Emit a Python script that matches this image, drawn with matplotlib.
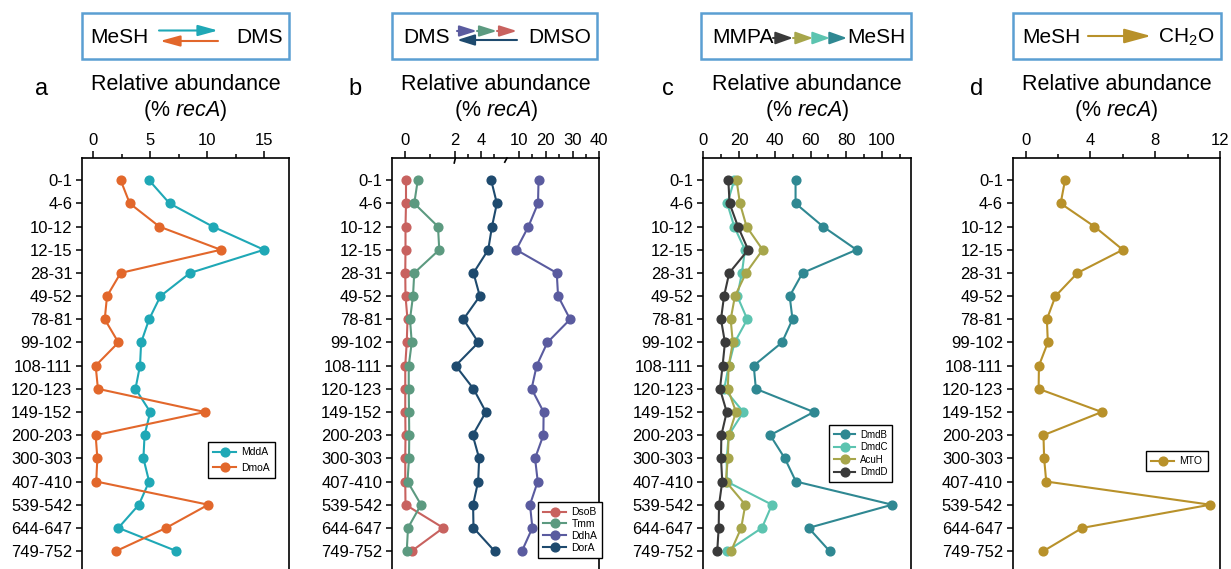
import numpy as np
import matplotlib
matplotlib.use('Agg')
import matplotlib.pyplot as plt
from matplotlib.patches import Rectangle
from matplotlib.ticker import FixedLocator, MultipleLocator
import matplotlib.transforms as mtrans

plt.rcParams['font.family'] = ['Liberation Sans', 'DejaVu Sans']
plt.rcParams['mathtext.fontset'] = 'custom'
plt.rcParams['mathtext.rm'] = 'Liberation Sans'
plt.rcParams['mathtext.it'] = 'Liberation Sans:italic'

# depth intervals (cm)
depths = ['0-1', '4-6', '10-12', '12-15', '28-31', '49-52', '78-81', '99-102',
          '108-111', '120-123', '149-152', '200-203', '300-303', '407-410',
          '539-542', '644-647', '749-752']

# a: MeSH <-> DMS
mddA = [4.9, 6.7, 10.5, 15.0, 8.5, 5.9, 4.9, 4.2, 4.1, 3.7, 5.0, 4.5, 4.4, 4.9, 4.0, 2.2, 7.3]
dmoA = [2.4, 3.2, 5.8, 11.2, 2.4, 1.2, 1.0, 2.2, 0.2, 0.4, 9.8, 0.2, 0.35, 0.25, 10.1, 6.4, 2.0]

# b: DMS <-> DMSO (broken axis)
dsoB = [0.04, 0.04, 0.02, 0.02, 0.01, 0.02, 0.1, 0.07, 0.01, 0.01, 0.01, 0.02, 0.01, 0.01, 0.02, 1.53, 0.27]
tmm = [0.51, 0.37, 1.32, 1.37, 0.37, 0.32, 0.2, 0.27, 0.15, 0.15, 0.16, 0.17, 0.16, 0.1, 0.64, 0.12, 0.07]
ddhA = [17.3, 17.1, 13.5, 9.1, 24.1, 24.6, 29.1, 20.6, 16.6, 14.7, 19.2, 19.1, 16.0, 17.0, 14.1, 15.0, 11.1]
dorA = [4.80, 5.24, 4.86, 4.57, 3.43, 3.92, 2.65, 3.81, 2.05, 3.43, 4.39, 3.37, 3.87, 3.79, 3.40, 3.43, 5.06]

# c: MMPA -> MeSH
dmdB = [51.6, 51.6, 67.0, 85.7, 55.5, 48.3, 49.9, 44.0, 28.2, 29.4, 61.8, 37.4, 45.6, 51.8, 105.6, 58.9, 70.6]
dmdC = [17.3, 13.4, 17.3, 23.3, 21.6, 19.0, 24.6, 17.5, 14.2, 11.7, 22.4, 14.2, 13.1, 13.1, 38.4, 32.8, 13.4]
acuH = [18.6, 20.5, 24.2, 33.2, 23.9, 17.7, 15.3, 16.5, 14.2, 13.7, 18.3, 14.2, 13.7, 12.6, 23.5, 21.2, 15.5]
dmdD = [14.0, 14.7, 19.4, 25.1, 14.5, 11.6, 9.9, 12.1, 10.8, 9.3, 13.1, 10.1, 9.9, 10.6, 8.8, 8.6, 7.8]

# d: MeSH -> CH2O
mto = [2.43, 2.16, 4.25, 6.0, 3.2, 1.84, 1.31, 1.37, 0.82, 0.8, 4.7, 1.1, 1.14, 1.27, 11.4, 3.5, 1.1]

c_mddA, c_dmoA = '#1FA8B6', '#E2672B'
c_dsoB, c_tmm, c_ddhA, c_dorA = '#C8625F', '#5C9A80', '#5A5B9F', '#1E4A6E'
c_dmdB, c_dmdC, c_acuH, c_dmdD = '#2F8892', '#5CC4B0', '#A7A64B', '#3A3A3A'
c_mto = '#B8912A'
box_col = '#5B9FD2'

W, H = 1231, 569
fig = plt.figure(figsize=(W / 100, H / 100), dpi=100)


def rect(x0, x1, top=158.0, bottom=573.3):
    return [x0 / W, 1 - bottom / H, (x1 - x0) / W, (bottom - top) / H]


def style(ax):
    ax.xaxis.tick_top()
    ax.tick_params(axis='x', which='major', direction='out', length=5, width=1.1,
                   labelsize=12, pad=2)
    ax.tick_params(axis='x', which='minor', direction='out', length=3, width=1.1)
    ax.tick_params(axis='y', direction='out', length=4, width=1.1, labelsize=12, pad=3)
    for s in ax.spines.values():
        s.set_linewidth(1.2)
    ax.set_ylim(16.96, -0.96)


kw = dict(marker='o', ms=6.3, lw=1.5)

# panel a
axa = fig.add_axes(rect(82, 289))
axa.plot(mddA, depths, color=c_mddA, label='MddA', **kw)
axa.plot(dmoA, depths, color=c_dmoA, label='DmoA', **kw)
axa.set_xlim(-1, 17.2)
axa.xaxis.set_major_locator(FixedLocator([0, 5, 10, 15]))
axa.xaxis.set_minor_locator(FixedLocator([2.5, 7.5, 12.5]))
style(axa)

# panel b, broken axis through a piecewise scale
bv = [-50, 0, 2, 6, 10, 40, 1000]
bp = [-845, 405, 455, 506.7, 519, 599.3, 3172]


def fwd(v):
    return np.interp(v, bv, bp)


def inv(p):
    return np.interp(p, bp, bv)


axb = fig.add_axes(rect(392, 599.3))
axb.set_xscale('function', functions=(fwd, inv))
axb.plot(dsoB, depths, color=c_dsoB, label='DsoB', **kw)
axb.plot(tmm, depths, color=c_tmm, label='Tmm', **kw)
axb.plot(ddhA, depths, color=c_ddhA, label='DdhA', **kw)
axb.plot(dorA, depths, color=c_dorA, label='DorA', **kw)
axb.set_xlim(-0.52, 40)
axb.xaxis.set_major_locator(FixedLocator([0, 2, 4, 10, 20, 30, 40]))
axb.xaxis.set_minor_locator(FixedLocator([1, 3, 5, 15, 25, 35]))
axb.xaxis.set_major_formatter(plt.FuncFormatter(lambda v, p: '%d' % v))
axb.xaxis.set_minor_formatter(plt.NullFormatter())
style(axb)
# small break marks on the top spine
bt = mtrans.blended_transform_factory(axb.transData, axb.transAxes)
axb.plot([1.97, 2.03], [0.988, 1.0], transform=bt, color='k', lw=1.2, clip_on=False)
axb.plot([5.85, 6.1], [0.99, 1.0], transform=bt, color='k', lw=1.2, clip_on=False)

# panel c
axc = fig.add_axes(rect(703.3, 910.7))
axc.plot(dmdB, depths, color=c_dmdB, label='DmdB', **kw)
axc.plot(dmdC, depths, color=c_dmdC, label='DmdC', **kw)
axc.plot(acuH, depths, color=c_acuH, label='AcuH', **kw)
axc.plot(dmdD, depths, color=c_dmdD, label='DmdD', **kw)
axc.set_xlim(0, 116)
axc.xaxis.set_major_locator(MultipleLocator(20))
axc.xaxis.set_minor_locator(FixedLocator([10, 30, 50, 70, 90, 110]))
style(axc)

# panel d
axd = fig.add_axes(rect(1012.7, 1220))
axd.plot(mto, depths, color=c_mto, label='MTO', **kw)
axd.set_xlim(-0.8, 12)
axd.xaxis.set_major_locator(FixedLocator([0, 4, 8, 12]))
axd.xaxis.set_minor_locator(FixedLocator([2, 6, 10]))
style(axd)

# legends
leg_specs = [(axa, 208, 442, 7.5, 0.55), (axb, 538, 502, 7.5, 0.18),
             (axc, 829, 425, 7.0, 0.25), (axd, 1146, 451, 7.5, 0.3)]
for ax, lx, ly, fs, sp in leg_specs:
    lg = ax.legend(loc='upper left', bbox_to_anchor=(lx / W, 1 - ly / H),
                   bbox_transform=fig.transFigure, fontsize=fs, fancybox=False,
                   edgecolor='k', framealpha=1, borderaxespad=0, handlelength=2.2,
                   labelspacing=sp, borderpad=0.5, handletextpad=0.5)
    lg.get_frame().set_linewidth(1.0)

# overlay for headers
ov = fig.add_axes([0, 0, 1, 1], zorder=-1)
ov.set_xlim(0, W)
ov.set_ylim(H, 0)
ov.axis('off')

panels = [('a', 42, 82, 289), ('b', 355, 392, 597.3), ('c', 668, 701, 911), ('d', 977, 1012.7, 1221)]
axes_x = [(82, 289), (392, 599.3), (703.3, 910.7), (1012.7, 1220)]
for (lab, lxp, bx0, bx1), (a0, a1) in zip(panels, axes_x):
    ov.add_patch(Rectangle((bx0, 12.7), bx1 - bx0, 46.6, fill=False, edgecolor=box_col, lw=1.8))
    ov.text(lxp, 89, lab, fontsize=17, ha='center', va='center')
    cx = (a0 + a1) / 2
    ov.text(cx, 84, 'Relative abundance', fontsize=15.5, ha='center', va='center')
    ov.text(cx, 110, r'(% $\mathit{recA}$)', fontsize=15.5, ha='center', va='center')


def arrow(x0, x1, y, c, hl=0.8, hw=0.22):
    ov.annotate('', xy=(x1, y), xytext=(x0, y),
                arrowprops=dict(arrowstyle='-|>,head_length=%g,head_width=%g' % (hl, hw),
                                color=c, lw=1.5, shrinkA=0, shrinkB=0, mutation_scale=15))


ty = 37
ov.text(90, ty, 'MeSH', fontsize=15, ha='left', va='center')
ov.text(236, ty, 'DMS', fontsize=15, ha='left', va='center')
arrow(159, 218, 30.5, c_mddA)
arrow(218, 160, 41, c_dmoA)

ov.text(403, ty, 'DMS', fontsize=15, ha='left', va='center')
ov.text(528, ty, 'DMSO', fontsize=15, ha='left', va='center')
arrow(457, 477, 31, c_ddhA, 0.7)
arrow(477, 497, 31, c_tmm, 0.7)
arrow(497, 517, 31, c_dsoB, 0.7)
arrow(517, 457, 40, c_dorA, 0.7)

ov.text(712, ty, 'MMPA', fontsize=15, ha='left', va='center')
ov.text(847, ty, 'MeSH', fontsize=15, ha='left', va='center')
arrow(773, 793, 38, c_dmdD, 0.7, 0.25)
arrow(793, 813, 38, c_acuH, 0.7, 0.25)
arrow(813, 830, 38, c_dmdC, 0.7, 0.25)
arrow(830, 847, 38, c_dmdB, 0.7, 0.25)

ov.text(1022, ty, 'MeSH', fontsize=15, ha='left', va='center')
ov.text(1158, ty, r'CH$_2$O', fontsize=15, ha='left', va='center')
arrow(1088, 1151, 36, c_mto, 1.1, 0.3)

fig.savefig('out.png', dpi=100)
